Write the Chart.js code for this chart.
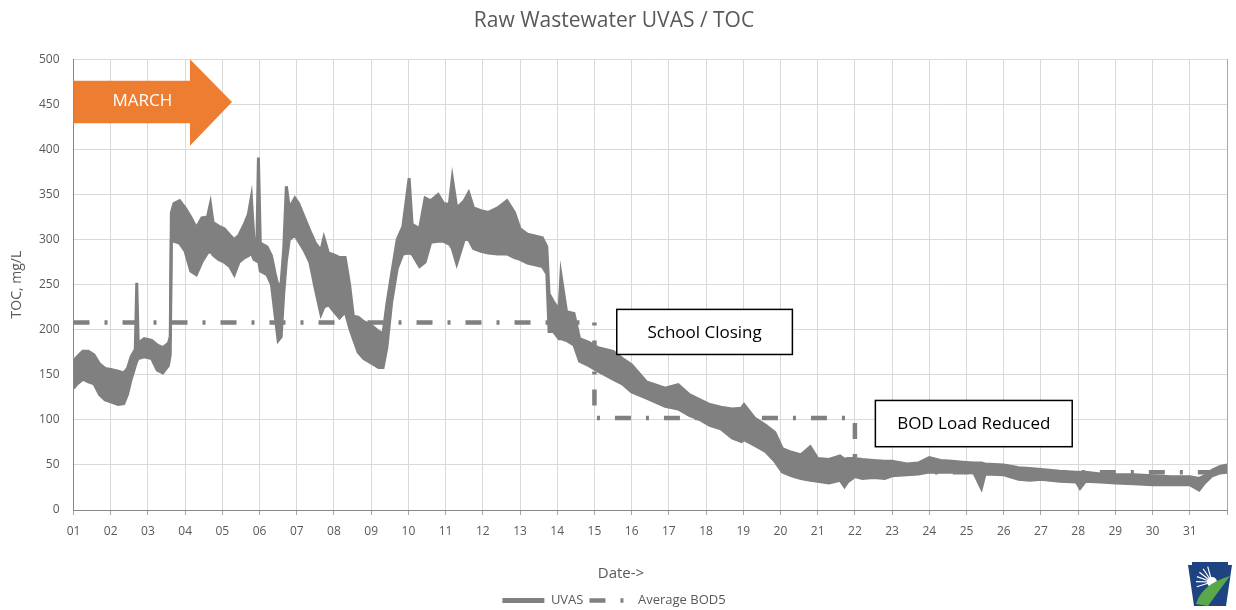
<!DOCTYPE html>
<html>
<head>
<meta charset="utf-8">
<script src="https://cdn.jsdelivr.net/npm/chart.js@4.4.1/dist/chart.umd.min.js"></script>
<style>
  body { margin: 0; background: #ffffff; }
  #wrap { width: 1236px; height: 610px; position: relative; }
</style>
</head>
<body>
<div id="wrap"><canvas id="uvasChart"></canvas></div>
<script>
const dayLabels = ['01','02','03','04','05','06','07','08','09','10','11','12','13','14','15','16',
    '17','18','19','20','21','22','23','24','25','26','27','28','29','30','31'];

// UVAS readings: time (day of March), band low and band high (mg/L)
const uvasDay = [
    1.00, 1.10, 1.25, 1.40, 1.55, 1.70, 1.85, 2.00, 2.20, 2.35, 2.45, 2.55, 2.66, 2.70, 2.74, 2.90,
    3.10, 3.25, 3.40, 3.55, 3.60, 3.63, 3.70, 3.85, 4.00, 4.15, 4.30, 4.45, 4.60, 4.68, 4.75, 4.90,
    5.05, 5.20, 5.32, 5.45, 5.60, 5.70, 5.78, 5.85, 5.93, 5.97, 6.02, 6.20, 6.32, 6.42, 6.50, 6.58,
    6.65, 6.72, 6.80, 6.95, 7.05, 7.20, 7.35, 7.50, 7.65, 7.73, 7.85, 8.00, 8.15, 8.30, 8.42, 8.52,
    8.65, 8.80, 9.00, 9.20, 9.32, 9.42, 9.55, 9.70, 9.85, 10.02, 10.10, 10.30, 10.45, 10.60, 10.80, 10.95,
    11.10, 11.18, 11.30, 11.50, 11.62, 11.75, 11.95, 12.15, 12.40, 12.65, 12.85, 13.00, 13.20, 13.40, 13.60, 13.72,
    13.78, 13.90, 14.05, 14.10, 14.25, 14.45, 14.60, 14.85, 15.10, 15.50, 15.75, 16.00, 16.40, 16.90, 17.25, 17.55,
    17.85, 18.10, 18.40, 18.70, 18.95, 19.02, 19.30, 19.60, 19.85, 20.05, 20.30, 20.55, 20.80, 21.00, 21.30, 21.60,
    21.72, 21.80, 22.00, 22.20, 22.50, 22.80, 23.00, 23.40, 23.70, 24.00, 24.30, 24.60, 24.90, 25.20, 25.40, 25.50,
    26.00, 26.40, 26.70, 27.00, 27.50, 27.95, 28.05, 28.20, 28.60, 29.00, 29.50, 30.00, 30.50, 31.00, 31.25, 31.40,
    31.60, 31.80, 32.00
];
const uvasLow = [
    135, 140, 145, 142, 140, 128, 122, 120, 117, 118, 128, 145, 160, 165, 168, 170,
    168, 155, 152, 160, 172, 298, 298, 296, 287, 265, 261, 275, 285, 287, 283, 278,
    275, 270, 261, 275, 280, 282, 285, 278, 276, 278, 265, 261, 250, 215, 188, 192,
    240, 276, 300, 305, 298, 288, 275, 245, 217, 225, 228, 220, 213, 220, 202, 190,
    175, 168, 163, 158, 158, 180, 230, 268, 284, 285, 284, 270, 275, 297, 298, 298,
    295, 290, 273, 300, 300, 290, 287, 285, 284, 284, 280, 278, 274, 272, 270, 262,
    198, 198, 190, 190, 188, 183, 165, 160, 154, 145, 140, 131, 124, 115, 112, 105,
    100, 94, 90, 80, 76, 78, 72, 65, 54, 42, 38, 35, 33, 32, 30, 33,
    26, 31, 37, 35, 36, 35, 38, 39, 40, 42, 42, 42, 42, 41, 24, 40,
    39, 34, 33, 34, 32, 31, 24, 32, 31, 30, 29, 28, 28, 28, 22, 30,
    38, 41, 42
];
const uvasHigh = [
    165, 170, 176, 176, 172, 162, 157, 156, 154, 152, 157, 170, 178, 252, 185, 190,
    188, 183, 180, 185, 192, 330, 340, 343, 335, 325, 313, 324, 325, 340, 319, 315,
    312, 305, 300, 305, 318, 328, 347, 300, 300, 391, 296, 292, 282, 262, 248, 252,
    290, 359, 335, 346, 340, 325, 310, 296, 288, 302, 285, 283, 280, 280, 250, 215,
    214, 209, 205, 198, 196, 228, 262, 300, 314, 368, 317, 312, 346, 343, 350, 340,
    339, 368, 335, 343, 352, 335, 332, 330, 335, 343, 330, 312, 306, 304, 302, 292,
    240, 231, 222, 261, 220, 218, 190, 186, 180, 176, 168, 161, 142, 135, 139, 128,
    122, 117, 114, 112, 113, 117, 102, 94, 86, 68, 64, 61, 70, 57, 56, 60,
    56, 57, 57, 56, 55, 54, 54, 51, 52, 58, 55, 54, 53, 52, 52, 51,
    50, 47, 46, 45, 43, 42, 42, 42, 40, 39, 39, 38, 37, 37, 35, 38,
    44, 48, 50
];

// Average BOD5 steps
const bodDay = [1, 15, 15, 22, 22, 32];
const bodValue = [208, 208, 102, 102, 42, 42];

const textColor = '#595959';
const markColor = '#808080';
const bodDash = [16, 15, 3, 15];
const narrowFont = "'Liberation Sans Narrow', 'Open Sans', sans-serif";
const plainFont = "'Open Sans', sans-serif";

const notes = {
    id: 'notes',
    afterDatasetsDraw(chart) {
        const { ctx } = chart;
        const x = chart.scales.x, y = chart.scales.y;

        // orange MARCH arrow
        ctx.save();
        ctx.fillStyle = '#ED7D31';
        ctx.beginPath();
        ctx.moveTo(x.getPixelForValue(1), y.getPixelForValue(476));
        ctx.lineTo(x.getPixelForValue(4.13), y.getPixelForValue(476));
        ctx.lineTo(x.getPixelForValue(4.13), y.getPixelForValue(500));
        ctx.lineTo(x.getPixelForValue(5.26), y.getPixelForValue(452.5));
        ctx.lineTo(x.getPixelForValue(4.13), y.getPixelForValue(404));
        ctx.lineTo(x.getPixelForValue(4.13), y.getPixelForValue(429));
        ctx.lineTo(x.getPixelForValue(1), y.getPixelForValue(429));
        ctx.closePath();
        ctx.fill();
        ctx.fillStyle = '#ffffff';
        ctx.font = "17px " + plainFont;
        ctx.textAlign = 'center';
        ctx.textBaseline = 'middle';
        ctx.fillText('MARCH', x.getPixelForValue(2.85), y.getPixelForValue(453));

        // text boxes
        const box = (d0, d1, v0, v1, label) => {
            const l = x.getPixelForValue(d0), r = x.getPixelForValue(d1);
            const t = y.getPixelForValue(v0), b = y.getPixelForValue(v1);
            ctx.fillStyle = '#ffffff';
            ctx.fillRect(l, t, r - l, b - t);
            ctx.strokeStyle = '#000000';
            ctx.lineWidth = 1.5;
            ctx.strokeRect(l, t, r - l, b - t);
            ctx.fillStyle = '#000000';
            ctx.font = "17px " + plainFont;
            ctx.fillText(label, (l + r) / 2, (t + b) / 2 + 1);
        };
        box(15.6, 20.32, 222.5, 172.5, 'School Closing');
        box(22.55, 27.84, 121.5, 70.2, 'BOD Load Reduced');
        ctx.restore();
    },
    afterDraw(chart) {
        const { ctx } = chart;
        ctx.save();
        // x axis caption, centred on the whole picture like the original
        ctx.fillStyle = textColor;
        ctx.font = "15px " + narrowFont;
        ctx.textAlign = 'center';
        ctx.textBaseline = 'middle';
        ctx.fillText('Date->', chart.width / 2 + 3, chart.scales.x.bottom - 14);

        // small keystone logo, bottom right
        const ox = 1188, oy = 562;
        ctx.fillStyle = '#1d4380';
        ctx.beginPath();
        ctx.moveTo(ox, oy + 3);
        ctx.lineTo(ox + 4, oy + 3);
        ctx.lineTo(ox + 4, oy);
        ctx.lineTo(ox + 40, oy);
        ctx.lineTo(ox + 40, oy + 3);
        ctx.lineTo(ox + 44, oy + 3);
        ctx.lineTo(ox + 38, oy + 44);
        ctx.lineTo(ox + 6, oy + 44);
        ctx.closePath();
        ctx.fill();
        ctx.strokeStyle = '#ffffff';
        ctx.lineWidth = 1.2;
        for (let a = -0.3; a <= 1.6; a += 0.32) {
            ctx.beginPath();
            ctx.moveTo(ox + 24, oy + 20);
            ctx.lineTo(ox + 24 - Math.cos(a) * 16, oy + 20 - Math.sin(a) * 16);
            ctx.stroke();
        }
        ctx.fillStyle = '#ffffff';
        ctx.beginPath();
        ctx.arc(ox + 24, oy + 20, 5, 0, Math.PI * 2);
        ctx.fill();
        ctx.fillStyle = '#59a84a';
        ctx.beginPath();
        ctx.moveTo(ox + 8, oy + 42);
        ctx.quadraticCurveTo(ox + 14, oy + 22, ox + 42, oy + 14);
        ctx.quadraticCurveTo(ox + 30, oy + 30, ox + 20, oy + 44);
        ctx.closePath();
        ctx.fill();
        ctx.restore();
    }
};

new Chart(document.getElementById('uvasChart'), {
    type: 'line',
    data: {
        datasets: [{
            label: 'UVAS',
            data: uvasDay.map((d, i) => ({ x: d, y: uvasHigh[i] })),
            borderColor: markColor,
            backgroundColor: markColor,
            borderWidth: 3,
            pointRadius: 0,
            pointStyle: 'line',
            tension: 0,
            fill: false,
        }, {
            label: 'UVAS low',
            data: uvasDay.map((d, i) => ({ x: d, y: uvasLow[i] })),
            borderColor: markColor,
            backgroundColor: markColor,
            borderWidth: 3,
            pointRadius: 0,
            pointStyle: 'line',
            tension: 0,
            fill: '-1',
        }, {
            label: 'Average BOD5',
            data: bodDay.map((d, i) => ({ x: d, y: bodValue[i] })),
            borderColor: markColor,
            backgroundColor: markColor,
            borderWidth: 4.5,
            borderDash: bodDash,
            borderCapStyle: 'butt',
            pointRadius: 0,
            pointStyle: 'line',
            tension: 0,
            fill: false,
        }]
    },
    options: {
        responsive: true,
        maintainAspectRatio: false,
        animation: false,
        layout: { padding: { left: 0, right: 8, top: 0, bottom: -7 } },
        plugins: {
            title: {
                display: true,
                text: 'Raw Wastewater UVAS / TOC',
                color: textColor,
                font: { family: plainFont, size: 21, weight: 'normal' },
                padding: { top: 8, bottom: 26 }
            },
            legend: {
                position: 'bottom',
                labels: {
                    color: textColor,
                    font: { family: narrowFont, size: 13 },
                    usePointStyle: true,
                    pointStyleWidth: 42,
                    padding: 6,
                    generateLabels(chart) {
                        const items = Chart.defaults.plugins.legend.labels.generateLabels(chart);
                        return items.filter(i => i.datasetIndex !== 1)
                            .map(i => i.datasetIndex === 0
                                ? { ...i, lineWidth: 5, lineDash: [] }
                                : { ...i, lineWidth: 4.5, lineDash: bodDash, lineCap: 'butt' });
                    }
                }
            },
            tooltip: { enabled: false }
        },
        scales: {
            x: {
                type: 'linear',
                min: 1,
                max: 32,
                afterFit: s => { s.height = 78; },
                ticks: {
                    stepSize: 1,
                    autoSkip: false,
                    maxRotation: 0,
                    padding: 9,
                    color: textColor,
                    font: { family: narrowFont, size: 12 },
                    callback: v => dayLabels[v - 1] || ''
                },
                grid: {
                    color: c => (c.tick && c.tick.value === 32) ? '#a6a6a6' : '#d9d9d9',
                    tickColor: '#a6a6a6',
                    tickLength: 5
                },
                border: { color: '#868686', width: 1 }
            },
            y: {
                min: 0,
                max: 500,
                afterFit: s => { s.width = 73.5; },
                ticks: {
                    stepSize: 50,
                    padding: 14,
                    color: textColor,
                    font: { family: narrowFont, size: 12 }
                },
                grid: { color: '#d9d9d9', drawTicks: false },
                border: { color: '#868686', width: 1 },
                title: {
                    display: true,
                    text: 'TOC, mg/L',
                    color: textColor,
                    font: { family: plainFont, size: 14 },
                    padding: { top: 9, bottom: 0 }
                }
            }
        }
    },
    plugins: [notes]
});
</script>
</body>
</html>
